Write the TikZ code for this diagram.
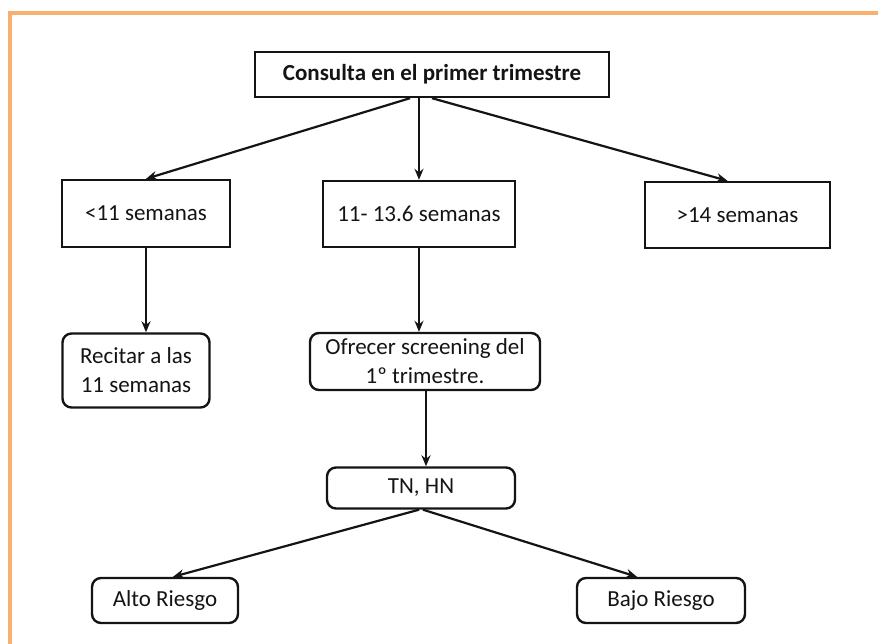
\documentclass[tikz,border=0pt]{standalone}
\usepackage{fontspec}
\setmainfont{Carlito}
\usetikzlibrary{arrows.meta,calc}
\definecolor{frameorange}{RGB}{248,176,112}
\definecolor{ink}{RGB}{20,20,20}
\tikzset{
  boxbase/.style={draw=ink, line width=2.4pt, align=center, inner sep=0pt,
    font=\fontsize{23}{29}\selectfont, text=ink},
  sqbox/.style={boxbase},
  rbox/.style={boxbase, rounded corners=9pt},
  conn/.style={draw=ink, line width=2.2pt, -{Stealth[length=11pt,width=9pt]}}
}
\begin{document}
\begin{tikzpicture}[x=1pt,y=-1pt]
\useasboundingbox (0,0) rectangle (878,644);
\fill[white] (0,0) rectangle (878,644);
\draw[frameorange, line width=3.5pt] (10,700) -- (10,13) -- (900,13);

\node[sqbox, minimum width=354pt, minimum height=45pt, font=\fontsize{23}{29}\selectfont\bfseries] (top) at (432,74.5) {Consulta en el primer trimestre};
\node[sqbox, minimum width=168pt, minimum height=67pt] (n11) at (146,213.5) {<11 semanas};
\node[sqbox, minimum width=192pt, minimum height=66pt] (mid) at (419,214) {11- 13.6 semanas};
\node[sqbox, minimum width=185pt, minimum height=66pt] (gt14) at (737.5,215) {>14 semanas};
\node[rbox, minimum width=147pt, minimum height=74pt] (rec) at (136,370.5) {Recitar a las\\11 semanas};
\node[rbox, minimum width=230pt, minimum height=57pt] (ofr) at (425,361.5) {Ofrecer screening del\\1º trimestre.};
\node[rbox, minimum width=188pt, minimum height=41pt] (tn) at (421,488) {TN, HN};
\node[rbox, minimum width=146pt, minimum height=45pt] (alto) at (165,600.5) {Alto Riesgo};
\node[rbox, minimum width=168pt, minimum height=45pt] (bajo) at (661,600.5) {Bajo Riesgo};

\draw[conn] ([xshift=-22pt]top.south) -- (n11.north);
\draw[conn] (top.south -| mid.north) -- (mid.north);
\draw[conn] ([xshift=0pt]top.south) -- ([xshift=-10pt]gt14.north);
\draw[conn] (n11.south) -- (n11.south |- rec.north);
\draw[conn] (mid.south) -- (mid.south |- ofr.north);
\draw[conn] ([xshift=1pt]ofr.south) -- ([xshift=1pt]ofr.south |- tn.north);
\draw[conn] ([xshift=-2pt]tn.south) -- ([xshift=8pt]alto.north);
\draw[conn] ([xshift=2pt]tn.south) -- ([xshift=-24pt]bajo.north);
\end{tikzpicture}
\end{document}
